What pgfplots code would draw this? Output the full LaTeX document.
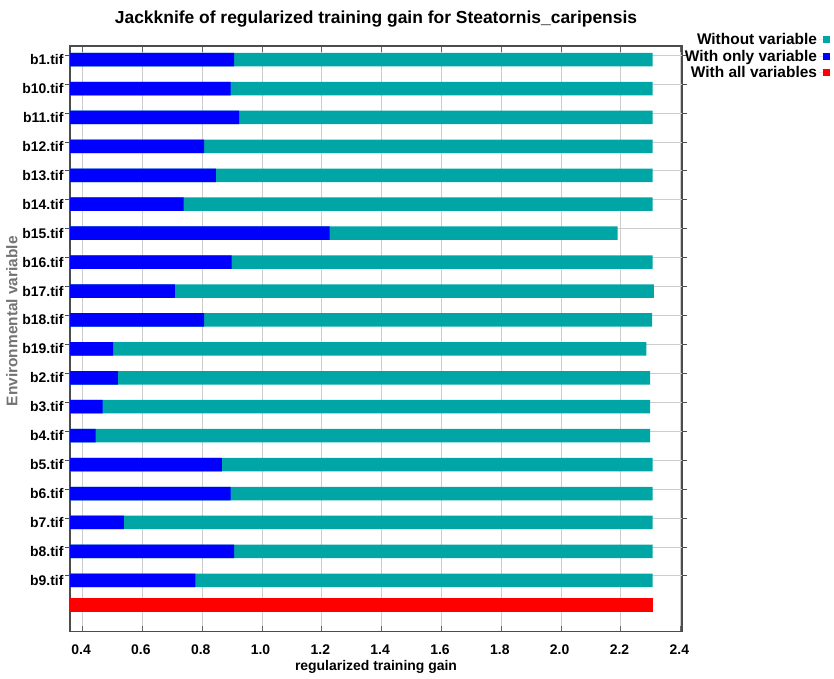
\documentclass[border=0pt]{standalone}
\usepackage{pgfplots}
\pgfplotsset{compat=1.18}
\usepackage{fontspec}
\setmainfont{Liberation Sans}
\definecolor{tealbar}{RGB}{0,166,166}
\definecolor{bluebar}{RGB}{0,0,255}
\definecolor{redbar}{RGB}{255,0,0}
\definecolor{gridc}{RGB}{205,205,205}
\begin{document}
\begin{tikzpicture}[font=\fontsize{14}{17}\selectfont\bfseries]
\useasboundingbox (-70bp,-47.5bp) rectangle (764bp,631.5bp);
\begin{axis}[
  at={(0,0)}, anchor=south west,
  scale only axis, width=612bp, height=585.5bp,
  xmin=0.358, xmax=2.404,
  ymin=0.53, ymax=20.77, y dir=reverse,
  xtick={0.4,0.6,...,2.41},
  xticklabel style={/pgf/number format/fixed, /pgf/number format/fixed zerofill, /pgf/number format/precision=1, yshift=-10bp, xshift=-1.5bp},
  /pgf/number format/assume math mode=true,
  xmajorgrids, major grid style={gridc, line width=1bp},
  tick align=inside,
  ytick={1,...,19},
  yticklabels={b1.tif,b10.tif,b11.tif,b12.tif,b13.tif,b14.tif,b15.tif,b16.tif,b17.tif,b18.tif,b19.tif,b2.tif,b3.tif,b4.tif,b5.tif,b6.tif,b7.tif,b8.tif,b9.tif},
  ytick style={draw=none},
  extra y ticks={0.85,1.85,...,18.9},
  extra y tick labels={},
  extra y tick style={ymajorgrids, ytick style={draw=black!70, line width=1bp}, major tick length=5bp},
  axis line style={draw=black!70, line width=1.5bp},
  xtick style={draw=black!60, line width=1bp},
  major tick length=6bp,
  yticklabel style={xshift=3bp},
  title={Jackknife of regularized training gain for Steatornis\_caripensis},
  title style={font=\fontsize{17.5}{20}\selectfont\bfseries, yshift=9bp},
  xlabel={regularized training gain},
  xlabel style={yshift=1bp},
  ylabel={Environmental variable},
  ylabel style={at={(axis description cs:-0.095,0.53)}, anchor=center, text=black!55, font=\fontsize{15.5}{18}\selectfont\bfseries},
  xbar, bar width=13.5bp, bar shift=0pt,
  legend style={draw=none, fill=none, at={(1.247,1.029)}, anchor=north east,
    legend cell align=right, row sep=0bp,
    nodes={inner sep=2bp}, font=\fontsize{15.5}{18}\selectfont\bfseries},
  legend plot pos=right,
  area legend,
]
\addplot[draw=none, fill=tealbar, legend image code/.code={\path (0bp,0bp) -- (11bp,0bp); \fill[tealbar] (4.5bp,-3.5bp) rectangle (11bp,3.5bp);}] coordinates {
(2.306,1) (2.306,2) (2.306,3) (2.306,4) (2.306,5) (2.306,6) (2.189,7) (2.306,8) (2.310,9) (2.304,10)
(2.285,11) (2.297,12) (2.297,13) (2.297,14) (2.306,15) (2.306,16) (2.306,17) (2.306,18) (2.306,19)};
\addlegendentry{Without variable}
\addplot[draw=none, fill=bluebar, legend image code/.code={\path (0bp,0bp) -- (11bp,0bp); \fill[bluebar] (4.5bp,-3.5bp) rectangle (11bp,3.5bp);}] coordinates {
(0.907,1) (0.895,2) (0.923,3) (0.806,4) (0.846,5) (0.738,6) (1.226,7) (0.898,8) (0.709,9) (0.806,10)
(0.502,11) (0.518,12) (0.467,13) (0.444,14) (0.866,15) (0.895,16) (0.538,17) (0.907,18) (0.777,19)};
\addlegendentry{With only variable}
\addplot[draw=none, fill=redbar, legend image code/.code={\path (0bp,0bp) -- (11bp,0bp); \fill[redbar] (4.5bp,-3.5bp) rectangle (11bp,3.5bp);}] coordinates {
(2.306,19.86)};
\addlegendentry{With all variables}
\end{axis}
\end{tikzpicture}
\end{document}
